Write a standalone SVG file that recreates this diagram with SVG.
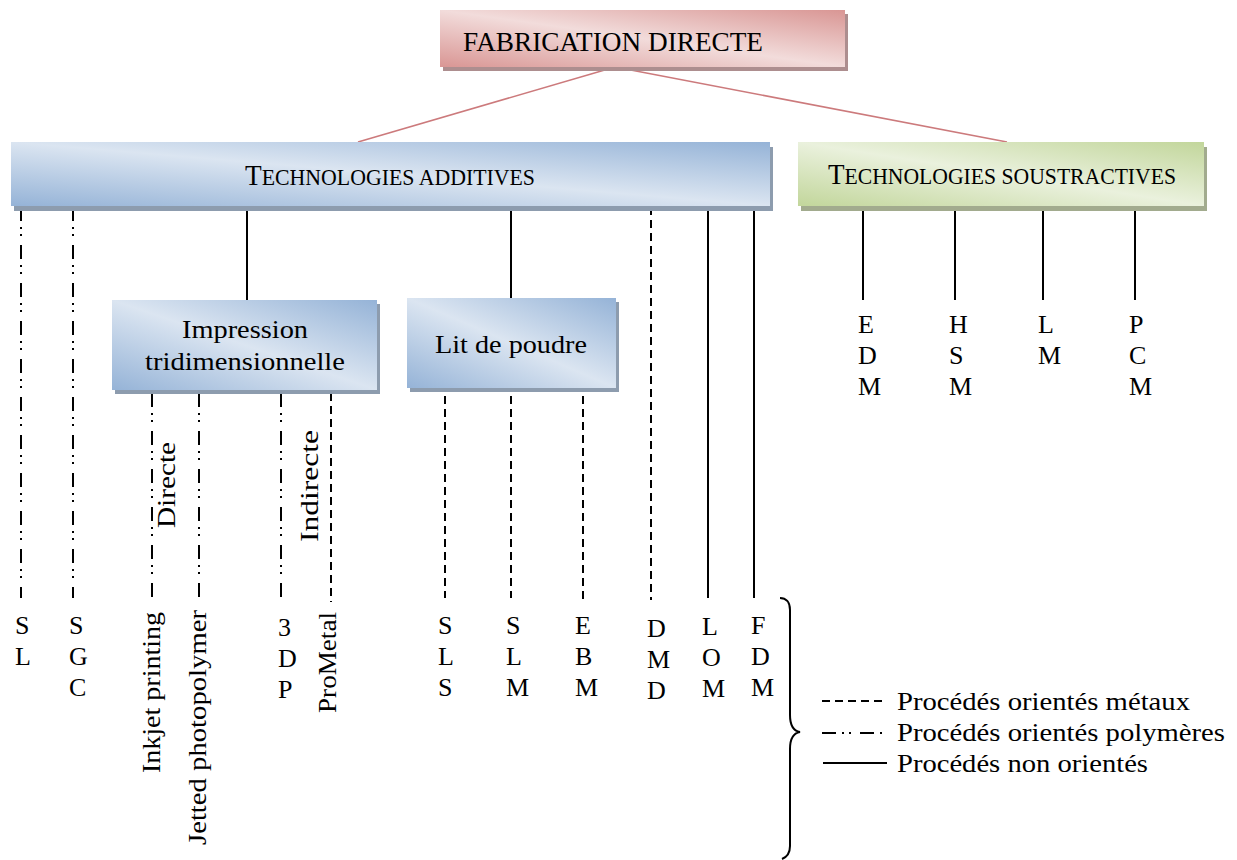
<svg xmlns="http://www.w3.org/2000/svg" width="1237" height="860" viewBox="0 0 1237 860">
<defs>
<linearGradient id="gPink" x1="0" y1="1" x2="1" y2="0">
<stop offset="0" stop-color="#d99694"/><stop offset="0.5" stop-color="#f2dcdb"/><stop offset="1" stop-color="#d99694"/>
</linearGradient>
<linearGradient id="gBlue" x1="0" y1="1" x2="1" y2="0">
<stop offset="0" stop-color="#95b3d7"/><stop offset="0.5" stop-color="#dbe5f1"/><stop offset="1" stop-color="#95b3d7"/>
</linearGradient>
<linearGradient id="gGreen" x1="0" y1="1" x2="1" y2="0">
<stop offset="0" stop-color="#c2d69b"/><stop offset="0.5" stop-color="#eaf1dd"/><stop offset="1" stop-color="#c2d69b"/>
</linearGradient>
</defs>
<style>
text{font-family:"Liberation Serif","Times New Roman",serif;fill:#000;}
.t{font-size:26px;}
.lt{font-size:26px;}
.solid{stroke:#000;stroke-width:2;fill:none;}
.metal{stroke:#000;stroke-width:2;fill:none;stroke-dasharray:8 5;}
.poly{stroke:#000;stroke-width:2;fill:none;stroke-dasharray:14 6 2 5 2 9;}
.root{stroke:#cc7a7c;stroke-width:1.6;fill:none;}
.shP{fill:#ad8e8f;}
.shB{fill:#8d9cae;}
.shG{fill:#a2ab8e;}
</style>

<g id="connectors">
<line class="root" x1="615" y1="67" x2="358" y2="142"/>
<line class="root" x1="615" y1="67" x2="1007" y2="142"/>
<line class="poly" x1="21" y1="207" x2="21" y2="598"/>
<line class="poly" x1="73" y1="207" x2="73" y2="598"/>
<line class="solid" x1="247" y1="207" x2="247" y2="300"/>
<line class="solid" x1="511" y1="207" x2="511" y2="298"/>
<line class="metal" x1="651" y1="207" x2="651" y2="600"/>
<line class="solid" x1="708" y1="207" x2="708" y2="598"/>
<line class="solid" x1="754" y1="207" x2="754" y2="598"/>
<line class="poly" x1="152" y1="393" x2="152" y2="600"/>
<line class="poly" x1="199" y1="393" x2="199" y2="600"/>
<line class="poly" x1="281" y1="393" x2="281" y2="600"/>
<line class="metal" x1="331" y1="393" x2="331" y2="602"/>
<line class="metal" x1="445" y1="396" x2="445" y2="598"/>
<line class="metal" x1="511" y1="396" x2="511" y2="598"/>
<line class="metal" x1="583" y1="396" x2="583" y2="600"/>
<line class="solid" x1="863" y1="206" x2="863" y2="300"/>
<line class="solid" x1="955" y1="206" x2="955" y2="300"/>
<line class="solid" x1="1043" y1="206" x2="1043" y2="300"/>
<line class="solid" x1="1135" y1="205" x2="1135" y2="300"/>
</g>

<g id="fabrication">
<rect class="shP" x="443" y="14" width="405" height="57"/>
<rect x="440" y="10" width="405" height="57" fill="url(#gPink)"/>
<text x="463" y="51" font-size="27" textLength="300" lengthAdjust="spacingAndGlyphs">FABRICATION DIRECTE</text>
</g>

<g id="additives">
<rect class="shB" x="14" y="147" width="759" height="64"/>
<rect x="11" y="142" width="759" height="64" fill="url(#gBlue)"/>
<text x="245" y="185" textLength="290" lengthAdjust="spacingAndGlyphs"><tspan font-size="30">T</tspan><tspan font-size="24">ECHNOLOGIES ADDITIVES</tspan></text>
</g>

<g id="soustractives">
<rect class="shG" x="801" y="147" width="406" height="64"/>
<rect x="798" y="142" width="406" height="64" fill="url(#gGreen)"/>
<text x="828" y="184" textLength="348" lengthAdjust="spacingAndGlyphs"><tspan font-size="30">T</tspan><tspan font-size="24">ECHNOLOGIES SOUSTRACTIVES</tspan></text>
</g>

<g id="impression">
<rect class="shB" x="115" y="304" width="265" height="90"/>
<rect x="112" y="300" width="265" height="90" fill="url(#gBlue)"/>
<text class="t" x="182" y="338" textLength="126" lengthAdjust="spacingAndGlyphs">Impression</text>
<text class="t" x="145" y="370" textLength="200" lengthAdjust="spacingAndGlyphs">tridimensionnelle</text>
</g>

<g id="litpoudre">
<rect class="shB" x="410" y="302" width="209" height="90"/>
<rect x="407" y="298" width="209" height="90" fill="url(#gBlue)"/>
<text class="t" x="435" y="353" textLength="152" lengthAdjust="spacingAndGlyphs">Lit de poudre</text>
</g>

<g id="sl"><text class="lt" x="15" y="634">S</text><text class="lt" x="15" y="665">L</text></g>
<g id="sgc"><text class="lt" x="69" y="634">S</text><text class="lt" x="69" y="665">G</text><text class="lt" x="69" y="696">C</text></g>
<g id="directe"><text class="t" transform="translate(175,528) rotate(-90)" textLength="86" lengthAdjust="spacingAndGlyphs">Directe</text></g>
<g id="inkjet"><text class="t" transform="translate(160,773) rotate(-90)" textLength="161" lengthAdjust="spacingAndGlyphs">Inkjet printing</text></g>
<g id="jetted"><text class="t" transform="translate(206,845) rotate(-90)" textLength="235" lengthAdjust="spacingAndGlyphs">Jetted photopolymer</text></g>
<g id="indirecte"><text class="t" transform="translate(318,542) rotate(-90)" textLength="112" lengthAdjust="spacingAndGlyphs">Indirecte</text></g>
<g id="tdp"><text class="lt" x="278" y="636">3</text><text class="lt" x="278" y="667">D</text><text class="lt" x="278" y="698">P</text></g>
<g id="prometal"><text class="t" transform="translate(336,713) rotate(-90)" textLength="101" lengthAdjust="spacingAndGlyphs">ProMetal</text></g>
<g id="sls"><text class="lt" x="438" y="634">S</text><text class="lt" x="438" y="665">L</text><text class="lt" x="438" y="696">S</text></g>
<g id="slm"><text class="lt" x="506" y="634">S</text><text class="lt" x="506" y="665">L</text><text class="lt" x="506" y="696">M</text></g>
<g id="ebm"><text class="lt" x="575" y="634">E</text><text class="lt" x="575" y="665">B</text><text class="lt" x="575" y="696">M</text></g>
<g id="dmd"><text class="lt" x="647" y="637">D</text><text class="lt" x="647" y="668">M</text><text class="lt" x="647" y="699">D</text></g>
<g id="lom"><text class="lt" x="702" y="635">L</text><text class="lt" x="702" y="666">O</text><text class="lt" x="702" y="697">M</text></g>
<g id="fdm"><text class="lt" x="751" y="634">F</text><text class="lt" x="751" y="665">D</text><text class="lt" x="751" y="696">M</text></g>
<g id="edm"><text class="lt" x="858" y="333">E</text><text class="lt" x="858" y="364">D</text><text class="lt" x="858" y="395">M</text></g>
<g id="hsm"><text class="lt" x="949" y="333">H</text><text class="lt" x="949" y="364">S</text><text class="lt" x="949" y="395">M</text></g>
<g id="lm"><text class="lt" x="1038" y="333">L</text><text class="lt" x="1038" y="364">M</text></g>
<g id="pcm"><text class="lt" x="1129" y="333">P</text><text class="lt" x="1129" y="364">C</text><text class="lt" x="1129" y="395">M</text></g>

<g id="brace">
<path class="solid" d="M780,598 C786,598 790,602 790,610 L790,715 C790,726 794,731 800,732 C794,733 790,738 790,749 L790,846 C790,853 787,857 782,859"/>
</g>

<g id="legend">
<line class="metal" x1="822" y1="701" x2="884" y2="701"/>
<line class="poly" x1="822" y1="733" x2="884" y2="733"/>
<line class="solid" x1="823" y1="763" x2="887" y2="763"/>
<text class="t" x="897" y="710" textLength="293" lengthAdjust="spacingAndGlyphs">Procédés orientés métaux</text>
<text class="t" x="897" y="741" textLength="328" lengthAdjust="spacingAndGlyphs">Procédés orientés polymères</text>
<text class="t" x="897" y="772" textLength="251" lengthAdjust="spacingAndGlyphs">Procédés non orientés</text>
</g>
</svg>
